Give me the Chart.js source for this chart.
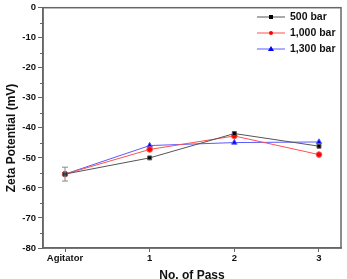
<!DOCTYPE html>
<html>
<head>
<title>Zeta Potential</title>
<script src="https://cdn.jsdelivr.net/npm/chart.js"></script>
<style>
  body { margin: 0; background: #fff; }
  #wrap { width: 347px; height: 279px; }
</style>
</head>
<body>
<div id="wrap"><canvas id="lineChart"></canvas></div>
<script>
var passLabels = ['Agitator', '1', '2', '3'];
var bar500 = [-55.4, -50.0, -41.9, -46.1];
var bar1000 = [-55.4, -47.2, -42.7, -48.9];
var bar1300 = [-55.4, -45.9, -44.9, -44.7];
var errAgitator = [2.3, 0, 0, 0];
var yTicks = [0, -10, -20, -30, -40, -50, -60, -70, -80];

var axisColor = '#666';
var family = 'Liberation Sans, Arial, sans-serif';
var font = { family: family, weight: 'bold', size: 9.5 };

function toPoints(vals) {
    return vals.map((v, i) => ({ x: i, y: v }));
}

var extras = {
    id: 'extras',
    afterDraw(chart) {
        var c = chart.ctx, a = chart.chartArea;
        var ys = chart.scales.y, xs = chart.scales.x;
        c.save();
        // frame
        c.strokeStyle = axisColor;
        c.lineWidth = 1.5;
        c.strokeRect(a.left, a.top, a.right - a.left, a.bottom - a.top);
        // minor ticks
        c.lineWidth = 1;
        for (var v = -75; v < 0; v += 10) {
            var py = Math.round(ys.getPixelForValue(v)) + 0.5;
            c.beginPath();
            c.moveTo(a.left - 3, py);
            c.lineTo(a.left + 1, py);
            c.stroke();
        }
        // error bars
        c.strokeStyle = '#888';
        errAgitator.forEach((e, i) => {
            if (!e) return;
            var px = xs.getPixelForValue(i);
            var top = ys.getPixelForValue(bar1300[i] + e);
            var bot = ys.getPixelForValue(bar1300[i] - e);
            c.beginPath();
            c.moveTo(px, top); c.lineTo(px, bot);
            c.moveTo(px - 3, top); c.lineTo(px + 3, top);
            c.moveTo(px - 3, bot); c.lineTo(px + 3, bot);
            c.stroke();
        });
        // y title (sits a bit below the plot centre in the original)
        c.fillStyle = '#111';
        c.font = 'bold 12px ' + family;
        c.textAlign = 'center';
        c.textBaseline = 'middle';
        c.translate(12, 138);
        c.rotate(-Math.PI / 2);
        c.fillText('Zeta Potential (mV)', 0, 0);
        c.setTransform(1, 0, 0, 1, 0, 0);
        // legend
        var rows = chart.data.datasets;
        c.font = 'bold 10.5px ' + family;
        c.textAlign = 'left';
        rows.forEach((ds, i) => {
            var ly = 17 + i * 16;
            c.strokeStyle = ds.borderColor;
            c.lineWidth = 1;
            c.beginPath();
            c.moveTo(257, ly); c.lineTo(285, ly);
            c.stroke();
            c.fillStyle = ds.backgroundColor;
            c.beginPath();
            if (ds.pointStyle === 'rect') {
                c.rect(269, ly - 2, 4, 4);
            } else if (ds.pointStyle === 'triangle') {
                c.moveTo(271, ly - 3); c.lineTo(274, ly + 2); c.lineTo(268, ly + 2); c.closePath();
            } else {
                c.arc(271, ly, 2, 0, Math.PI * 2);
            }
            c.fill();
            c.fillStyle = '#111';
            c.fillText(ds.label, 290, ly);
        });
        c.restore();
    }
};

var ctx = document.getElementById('lineChart').getContext('2d');
var lineChart = new Chart(ctx, {
    type: 'line',
    data: {
        datasets: [{
            label: '500 bar',
            data: toPoints(bar500),
            borderColor: '#555',
            backgroundColor: '#000',
            pointStyle: 'rect',
            pointRadius: 2.8,
            borderWidth: 1
        }, {
            label: '1,000 bar',
            data: toPoints(bar1000),
            borderColor: '#ff5050',
            backgroundColor: '#f00',
            pointStyle: 'circle',
            pointRadius: 2.8,
            borderWidth: 1
        }, {
            label: '1,300 bar',
            data: toPoints(bar1300),
            borderColor: '#5a5aff',
            backgroundColor: '#00f',
            pointStyle: 'triangle',
            pointRadius: 3.2,
            borderWidth: 1
        }]
    },
    options: {
        responsive: true,
        maintainAspectRatio: false,
        animation: false,
        layout: { padding: { top: 7, right: 6, left: 0, bottom: 0 } },
        plugins: { legend: { display: false }, tooltip: { enabled: false } },
        scales: {
            x: {
                type: 'linear',
                min: -0.26,
                max: 3.26,
                afterBuildTicks(scale) {
                    scale.ticks = passLabels.map((l, i) => ({ value: i }));
                },
                afterFit(scale) { scale.height = 31; },
                ticks: {
                    color: '#111',
                    font: font,
                    padding: 1,
                    maxRotation: 0,
                    callback: (v) => passLabels[v]
                },
                grid: { drawOnChartArea: false, tickLength: 4, color: axisColor },
                border: { color: axisColor, width: 1.5 },
                title: {
                    display: true,
                    text: 'No. of Pass',
                    color: '#111',
                    font: { family: family, weight: 'bold', size: 12 },
                    padding: { top: 1, bottom: -4 }
                }
            },
            y: {
                min: -80,
                max: 0,
                afterBuildTicks(scale) {
                    scale.ticks = yTicks.map(v => ({ value: v }));
                },
                afterFit(scale) { scale.width = 43; },
                ticks: { color: '#111', font: font, padding: 2 },
                grid: { drawOnChartArea: false, tickLength: 5, color: axisColor },
                border: { color: axisColor, width: 1.5 }
            }
        }
    },
    plugins: [extras]
});
</script>
</body>
</html>
